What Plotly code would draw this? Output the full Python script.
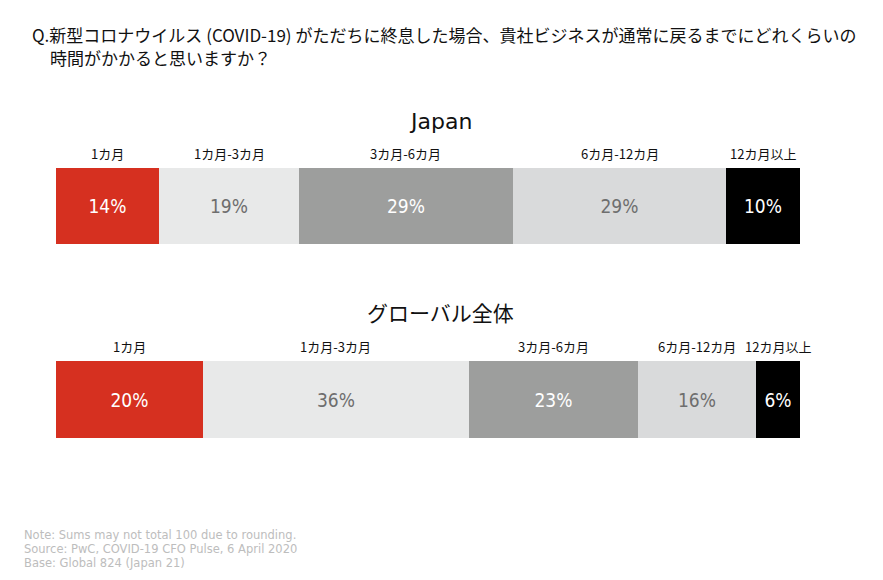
import plotly.graph_objects as go

categories = ["1カ月", "1カ月-3カ月", "3カ月-6カ月", "6カ月-12カ月", "12カ月以上"]
japan_values = [14, 19, 29, 29, 10]
global_values = [20, 36, 23, 16, 6]
panel_titles = ["Japan", "グローバル全体"]

bar_colors = ["#d63020", "#e8e9e9", "#9d9e9d", "#d9dadb", "#000000"]
text_colors = ["#ffffff", "#6e6e6e", "#ffffff", "#6e6e6e", "#ffffff"]

CJK = "Noto Sans CJK JP"
LAT = "DejaVu Sans"
PCT = "DejaVu Sans Condensed, DejaVu Sans"

fig = go.Figure()

panels = [
    (japan_values, "x", "y"),
    (global_values, "x2", "y2"),
]

for values, xa, ya in panels:
    for cat, v, bc, tc in zip(categories, values, bar_colors, text_colors):
        fig.add_trace(go.Bar(
            x=[v], y=[0], orientation="h", xaxis=xa, yaxis=ya,
            marker=dict(color=bc, line=dict(width=0)),
            text=[f"{v}%"], textposition="inside", insidetextanchor="middle",
            textfont=dict(color=tc, size=19, family=PCT),
            hoverinfo="skip", showlegend=False, name=cat,
        ))

x0, x1 = 56 / 883, 800 / 883
H = 580.0
def py(px):
    return 1 - px / H

fig.update_layout(
    width=883, height=580,
    margin=dict(l=0, r=0, t=0, b=0),
    barmode="stack", bargap=0,
    plot_bgcolor="white", paper_bgcolor="white",
    xaxis=dict(domain=[x0, x1], range=[0, sum(japan_values)], visible=False, fixedrange=True),
    yaxis=dict(domain=[py(244), py(168)], range=[-0.5, 0.5], visible=False, fixedrange=True),
    xaxis2=dict(domain=[x0, x1], range=[0, sum(global_values)], visible=False, anchor="y2", fixedrange=True),
    yaxis2=dict(domain=[py(438), py(361)], range=[-0.5, 0.5], visible=False, anchor="x2", fixedrange=True),
)

annotations = []
# category labels above segments
for values, xa, label_y in [(japan_values, "x", 153), (global_values, "x2", 346)]:
    cum = 0
    for cat, v in zip(categories, values):
        annotations.append(dict(
            x=cum + v / 2, y=py(label_y), xref=xa, yref="paper",
            text=cat, showarrow=False, xanchor="center", yanchor="middle",
            font=dict(family=CJK, size=13, color="#111111"),
        ))
        cum += v

# panel titles
annotations.append(dict(x=440 / 883, y=py(121), xref="paper", yref="paper",
                        text=panel_titles[0], showarrow=False, xanchor="center", yanchor="middle",
                        font=dict(family=LAT, size=22, color="#111111")))
annotations.append(dict(x=440 / 883, y=py(312), xref="paper", yref="paper",
                        text=panel_titles[1], showarrow=False, xanchor="center", yanchor="middle",
                        font=dict(family=CJK, size=21, color="#111111")))

# question title
annotations.append(dict(x=30 / 883, y=py(35), xref="paper", yref="paper",
                        text="Q.新型コロナウイルス (COVID-19) がただちに終息した場合、貴社ビジネスが通常に戻るまでにどれくらいの",
                        showarrow=False, xanchor="left", yanchor="middle",
                        font=dict(family=CJK, size=17, color="#111111")))
annotations.append(dict(x=48 / 883, y=py(57), xref="paper", yref="paper",
                        text="時間がかかると思いますか？",
                        showarrow=False, xanchor="left", yanchor="middle",
                        font=dict(family=CJK, size=17, color="#111111")))

# footnotes
notes = ["Note: Sums may not total 100 due to rounding.",
         "Source: PwC, COVID-19 CFO Pulse, 6 April 2020",
         "Base: Global 824 (Japan 21)"]
for i, t in enumerate(notes):
    annotations.append(dict(x=22 / 883, y=py(535 + 14 * i), xref="paper", yref="paper",
                            text=t, showarrow=False, xanchor="left", yanchor="middle",
                            font=dict(family=LAT, size=11.5, color="#bdbdbd")))

fig.update_layout(annotations=annotations)
fig.write_html("out.html", config={"displayModeBar": False},
               post_script="document.body.style.margin='0';")
